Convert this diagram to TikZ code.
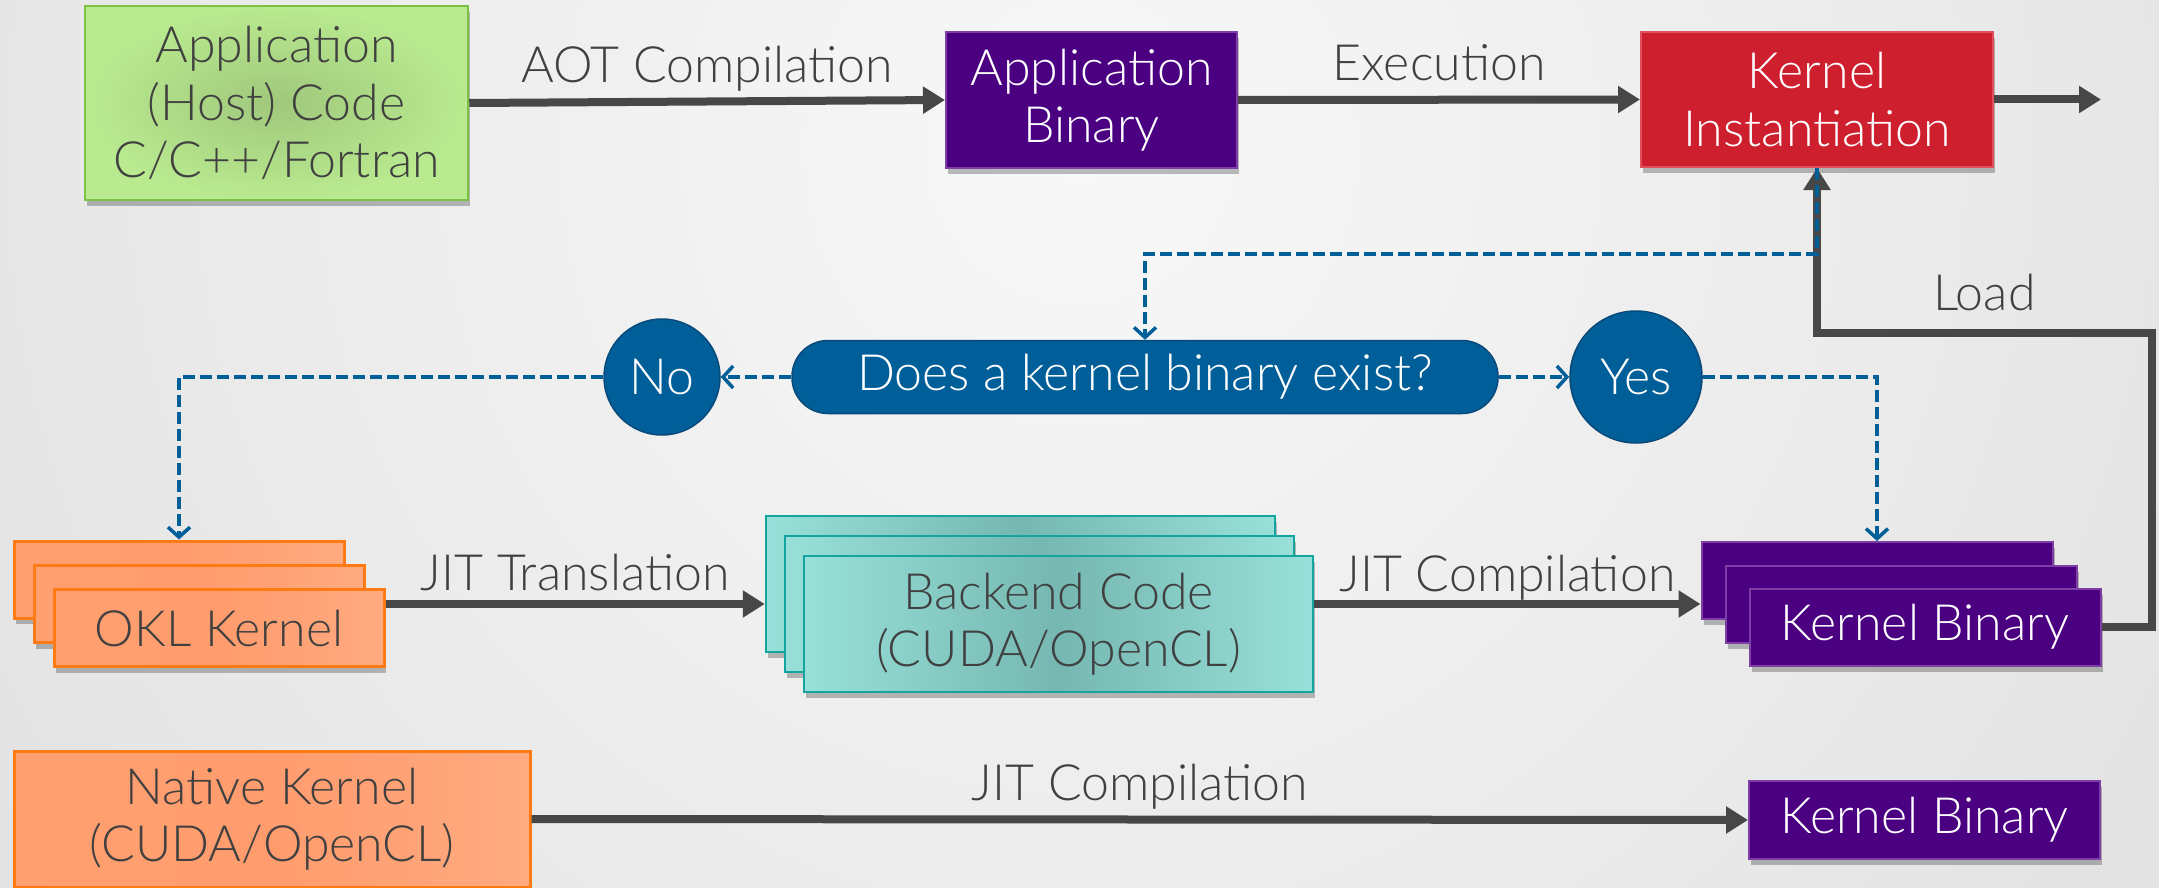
\documentclass[tikz,border=0pt]{standalone}
\usepackage{fontspec}
\setmainfont{Lato}[UprightFont={* Light}]
\usetikzlibrary{arrows.meta,shadows,calc}
\definecolor{txt}{HTML}{404040}
\definecolor{purp}{HTML}{4B0082}
\definecolor{purpB}{HTML}{7D3FA5}
\definecolor{redF}{HTML}{CE1F2F}
\definecolor{redB}{HTML}{E0505C}
\definecolor{blueF}{HTML}{005E99}
\definecolor{blueB}{HTML}{0A4A7A}
\definecolor{greenL}{HTML}{B9EA8F}
\definecolor{greenD}{HTML}{A0C87C}
\definecolor{greenB}{HTML}{7BC143}
\definecolor{orgL}{HTML}{FFA070}
\definecolor{orgM}{HTML}{FF9C6E}
\definecolor{orgR}{HTML}{FFAA80}
\definecolor{orgB}{HTML}{FF7A12}
\definecolor{tealL}{HTML}{98E0D9}
\definecolor{tealD}{HTML}{76B7B1}
\definecolor{tealB}{HTML}{14A59E}
\definecolor{arrowgrey}{HTML}{474747}
\definecolor{bgin}{HTML}{F8F8F8}
\definecolor{bgout}{HTML}{D9D9D9}
\tikzset{
  bigfont/.style={font=\fontsize{50}{57.5}\selectfont},
  lbl/.style={bigfont, text=txt, inner sep=0pt},
  boxbase/.style={rectangle, bigfont, align=center, inner sep=0pt,
    drop shadow={shadow xshift=2pt, shadow yshift=-6pt, opacity=0.25, fill=black}},
  greenbox/.style={boxbase, draw=greenB, line width=2.5pt, inner color=greenD, outer color=greenL, text=txt},
  purplebox/.style={boxbase, draw=purpB, line width=2pt, fill=purp, text=white},
  redbox/.style={boxbase, draw=redB, line width=2pt, fill=redF, text=white},
  orangebox/.style={boxbase, draw=orgB, line width=3pt, left color=orgL, right color=orgR, middle color=orgM, text=txt,
    minimum width=330pt, minimum height=77pt},
  tealbox/.style={boxbase, draw=tealB, line width=2.5pt, left color=tealL, right color=tealL, middle color=tealD, text=txt,
    minimum width=509pt, minimum height=136pt},
  kbbox/.style={purplebox, minimum width=351pt, minimum height=77pt},
  decbox/.style={rectangle, rounded corners=36pt, fill=blueF, draw=blueB, line width=1.5pt, text=white, bigfont,
    minimum width=706pt, minimum height=73pt, inner sep=0pt},
  circ/.style={circle, fill=blueF, draw=blueB, line width=1.5pt, text=white, bigfont, inner sep=0pt},
  flow/.style={draw=arrowgrey, line width=8pt, -{Triangle[length=22pt,width=26pt]}},
  bluedash/.style={draw=blueF, line width=3.5pt, dash pattern=on 12pt off 5pt, -{Straight Barb[length=10pt,width=22pt]}}
}
\begin{document}
\begin{tikzpicture}[x=1pt,y=-1pt]
\useasboundingbox (0,0) rectangle (2159,888);
\fill[bgout] (0,0) rectangle (2159,888);
\begin{scope}
  \clip (0,0) rectangle (2159,888);
  \shade[inner color=bgin, outer color=bgout] (1080,150) circle (1900);
\end{scope}

% top row
\node[greenbox, minimum width=383pt, minimum height=194pt] (app) at (276.5,103) {Application\\(Host) Code\\C/C++/Fortran};
\node[purplebox, minimum width=291pt, minimum height=136pt] (appbin) at (1091.5,100) {Application\\Binary};
\node[redbox, minimum width=352pt, minimum height=135pt] (kinst) at (1817,99.5) {Kernel\\Instantiation};
\coordinate (out) at (2101,99.5);

% decision
\node[decbox] (dec) at (1145,377) {Does a kernel binary exist?};
\node[circ, minimum size=116pt] (no) at (662,377) {No};
\node[circ, minimum size=132pt] (yes) at (1636,377) {Yes};

% OKL stack
\node[orangebox] (okl1) at (179,579.5) {};
\node[orangebox] (okl2) at (199,604) {};
\node[orangebox] (okl3) at (219,628) {OKL Kernel};

% backend stack
\node[tealbox] (be1) at (1020.5,584) {};
\node[tealbox] (be2) at (1039.5,604) {};
\node[tealbox] (be3) at (1058.5,624) {Backend Code\\(CUDA/OpenCL)};

% kernel binary stack
\node[kbbox] (kb1) at (1877,580.5) {};
\node[kbbox] (kb2) at (1901,604) {};
\node[kbbox] (kb3) at (1925,627) {Kernel Binary};

% bottom row
\node[orangebox, minimum width=516pt, minimum height=136pt] (native) at (272,819) {Native Kernel\\(CUDA/OpenCL)};
\node[kbbox, minimum height=78pt] (kbn) at (1924.5,820) {Kernel Binary};

% grey flows
\draw[flow] (app.east) -- (appbin.west) node[midway, anchor=base, yshift=19pt, lbl] {AOT Compilation};
\draw[flow] (appbin.east) -- (kinst.west) node[midway, anchor=base, yshift=19pt, lbl] {Execution};
\draw[flow] (kinst.east) -- (out);
\draw[flow] (okl3.east |- be2.center) -- (be1.west |- be2.center) node[midway, anchor=base, yshift=14pt, lbl] {JIT Translation};
\draw[flow] (be3.east |- kb2.center) -- (kb1.west |- kb2.center) node[midway, anchor=base, yshift=13pt, lbl] {JIT Compilation};
\draw[flow] (native.east) -- (kbn.west) node[midway, anchor=base, yshift=19pt, lbl] {JIT Compilation};
\draw[flow] (kb3.east) -| ++(50,-294) -| (kinst.south) node[pos=0.25, anchor=base, yshift=23pt, lbl] {Load};

% blue dashed decisions
\draw[bluedash] (kinst.south) -- ++(0,86) -| (dec.north);
\draw[bluedash] (dec.west) -- (no.east);
\draw[bluedash] (no.west) -| (okl1.north);
\draw[bluedash] (dec.east) -- (yes.west);
\draw[bluedash] (yes.east) -| (kb1.north);
\end{tikzpicture}
\end{document}
